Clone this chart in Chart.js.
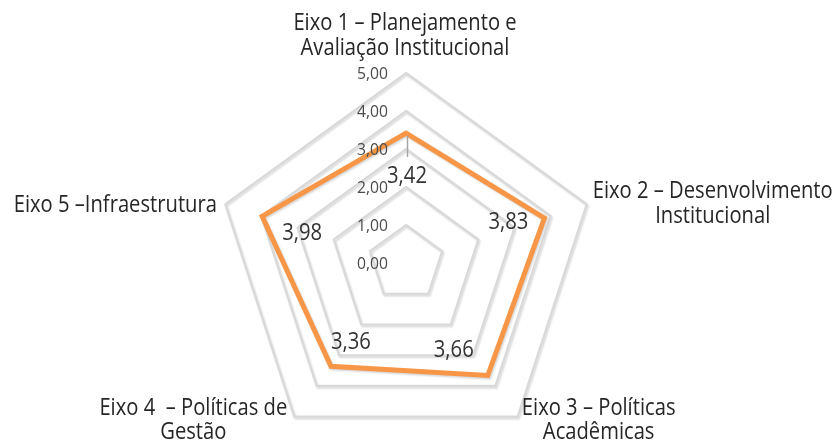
<!DOCTYPE html>
<html><head><meta charset="utf-8">
<script src="https://cdn.jsdelivr.net/npm/chart.js@4.4.1/dist/chart.umd.min.js"></script>
<style>html,body{margin:0;padding:0;background:#fff;overflow:hidden}</style>
</head><body>
<canvas id="c" width="837" height="447"></canvas>
<script>
// ---- data ----
const categories = [
  ["Eixo 1 – Planejamento e", "Avaliação Institucional"],
  ["Eixo 2 – Desenvolvimento", "Institucional"],
  ["Eixo 3 – Políticas", "Acadêmicas"],
  ["Eixo 4  – Políticas de", "Gestão"],
  ["Eixo 5 –Infraestrutura"]
];
const scores = [3.42, 3.83, 3.66, 3.36, 3.98];
const tickMin = 0, tickMax = 5, tickStep = 1;
const fmt = v => v.toFixed(2).replace('.', ',');

// ---- layout / style (not data) ----
const FONT = '"Open Sans", Lato, sans-serif';
const CENTER = {x: 406, y: 263, r: 190};
// label anchor offsets from outer vertex: [dx (center of text), dy (first baseline)]
const catLabelOffsets = [[-1, -43], [126, -6], [81, -2], [-101, -2], [-110, 8]];
const catLineHeight = 24.5;
const TEXT_STRETCH = 1.18;
// data label offsets from point (center of text)
const dataLabelOffsets = [[1, 43], [-36, 4], [-34, -25], [20, -24], [40, 17]];

function fitSize(ctx, text, target) {
  ctx.font = '100px ' + FONT;
  return 100 * target / ctx.measureText(text).width;
}
function stretchedText(ctx, txt, x, y, k) {
  ctx.save();
  ctx.translate(x, y);
  ctx.scale(1, k);
  ctx.fillText(txt, 0, 0);
  ctx.restore();
}

const shadowPlugin = {
  id: 'shadow',
  beforeDraw(chart) {
    const c = chart.ctx;
    c.save();
    c.shadowColor = 'rgba(0,0,0,0.16)';
    c.shadowBlur = 2;
    c.shadowOffsetX = 1.2;
    c.shadowOffsetY = 1.6;
  },
  afterDatasetsDraw(chart) { chart.ctx.restore(); }
};

const textPlugin = {
  id: 'texts',
  afterDraw(chart) {
    const ctx = chart.ctx;
    const s = chart.scales.r;
    ctx.save();
    // category labels
    const catSize = fitSize(ctx, categories[1][0], 240);
    ctx.font = catSize.toFixed(2) + 'px ' + FONT;
    ctx.fillStyle = '#262626';
    ctx.textAlign = 'center';
    ctx.textBaseline = 'alphabetic';
    categories.forEach((lines, i) => {
      const p = s.getPointPosition(i, s.drawingArea);
      const o = catLabelOffsets[i];
      lines.forEach((ln, k) => stretchedText(ctx, ln, p.x + o[0], p.y + o[1] + k * catLineHeight, TEXT_STRETCH));
    });
    // tick labels
    const tSize = fitSize(ctx, '5,00', 31);
    ctx.font = tSize.toFixed(2) + 'px ' + FONT;
    ctx.fillStyle = '#4a4a4a';
    ctx.textAlign = 'right';
    ctx.textBaseline = 'middle';
    s.ticks.forEach(t => {
      const d = s.getDistanceFromCenterForValue(t.value);
      ctx.fillText(fmt(t.value), s.xCenter - 18, s.yCenter - d + 1.5);
    });
    // leader line for first label
    const p0 = s.getPointPosition(0, s.getDistanceFromCenterForValue(scores[0]));
    ctx.strokeStyle = '#a6a6a6';
    ctx.lineWidth = 1.5;
    ctx.beginPath();
    ctx.moveTo(p0.x + 1.5, p0.y + 3);
    ctx.lineTo(p0.x + 1.5, p0.y + 24);
    ctx.stroke();
    // data labels
    const dSize = fitSize(ctx, '3,42', 40);
    ctx.font = dSize.toFixed(2) + 'px ' + FONT;
    ctx.fillStyle = '#333333';
    ctx.textAlign = 'center';
    ctx.textBaseline = 'middle';
    scores.forEach((v, i) => {
      const p = s.getPointPosition(i, s.getDistanceFromCenterForValue(v));
      const o = dataLabelOffsets[i];
      stretchedText(ctx, fmt(v), p.x + o[0], p.y + o[1], TEXT_STRETCH);
    });
    ctx.restore();
  }
};

new Chart(document.getElementById('c'), {
  type: 'radar',
  data: {
    labels: categories,
    datasets: [{
      data: scores,
      borderColor: '#f79646',
      borderWidth: 5,
      borderJoinStyle: 'miter',
      backgroundColor: 'rgba(0,0,0,0)',
      fill: false,
      pointRadius: 0,
      pointHoverRadius: 0
    }]
  },
  options: {
    responsive: false,
    animation: false,
    events: [],
    plugins: {legend: {display: false}, tooltip: {enabled: false}},
    scales: {
      r: {
        min: tickMin, max: tickMax,
        ticks: {display: false, stepSize: tickStep},
        pointLabels: {display: false},
        angleLines: {display: false},
        grid: {color: '#d9d9d9', lineWidth: 2.2},
        afterFit(scale) {
          scale.xCenter = CENTER.x;
          scale.yCenter = CENTER.y;
          scale.drawingArea = CENTER.r;
        }
      }
    }
  },
  plugins: [shadowPlugin, textPlugin]
});
</script>
</body></html>
